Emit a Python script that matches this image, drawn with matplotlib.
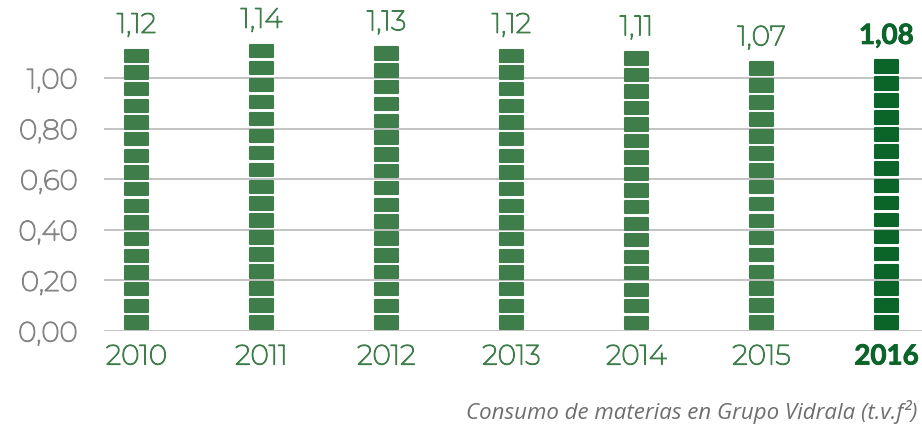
import matplotlib.pyplot as plt
import matplotlib.patheffects as pe

# data
years = ['2010', '2011', '2012', '2013', '2014', '2015', '2016']
values = [1.12, 1.14, 1.13, 1.12, 1.11, 1.07, 1.08]
value_labels = ['1,12', '1,14', '1,13', '1,12', '1,11', '1,07', '1,08']
yticks = [0.0, 0.2, 0.4, 0.6, 0.8, 1.0]
ytick_labels = ['0,00', '0,20', '0,40', '0,60', '0,80', '1,00']
caption = 'Consumo de materias en Grupo Vidrala (t.v.f²)'

green = '#3f7d4a'
dark_green = '#0b6429'
grey_txt = '#858585'

plt.rcParams['font.family'] = ['Montserrat', 'Lato', 'DejaVu Sans']


def thick(c, w=0.9):
    # installed Montserrat is very light, thicken it a bit
    return [pe.withStroke(linewidth=w, foreground=c)]


fig = plt.figure(figsize=(9.22, 4.24), dpi=100)
W, H = 922, 424
# axes placed in pixels: 0 at y=331, 253 px per unit
ax = fig.add_axes([104 / W, (H - 331) / H, (922 - 104) / W, 1.3 * 253 / H])
ax.set_xlim(-32.5 / 125, (922 - 136.5) / 125)
ax.set_ylim(0, 1.3)

# gridlines
for t in yticks:
    ax.axhline(t, color='#b3b3b3', lw=1.1, zorder=1)

seg = 0.2 / 3      # segment period (3 segments per 0.20)
width = 0.18

for i, v in enumerate(values):
    col = dark_green if i == len(values) - 1 else green
    n = int(round(v / seg))
    p = v / n
    for k in range(n):
        ax.bar(i, p * 0.74, bottom=k * p + p * 0.13, width=width, color=col,
               zorder=2, edgecolor=col, linewidth=1.5, joinstyle='round')
    if i == len(values) - 1:
        ax.text(i, v + 0.035, value_labels[i], ha='center', va='bottom',
                fontsize=20, fontweight='bold', color=dark_green,
                family=['Lato', 'DejaVu Sans'], path_effects=thick(dark_green, 0.6))
    else:
        ax.text(i, v + 0.035, value_labels[i], ha='center', va='bottom',
                fontsize=20, color=green, path_effects=thick(green))

ax.set_yticks(yticks)
ax.set_yticklabels(ytick_labels, fontsize=20, color=grey_txt)
for t in ax.get_yticklabels():
    t.set_path_effects(thick(grey_txt))
ax.set_xticks(range(len(years)))
ax.set_xticklabels(years, fontsize=20, color=green)
for t in ax.get_xticklabels():
    t.set_path_effects(thick(green))
lbl = ax.get_xticklabels()[-1]
lbl.set_fontweight('bold')
lbl.set_family(['Lato', 'DejaVu Sans'])
lbl.set_fontsize(20)
lbl.set_color(dark_green)
lbl.set_path_effects(thick(dark_green, 0.6))
ax.tick_params(length=0, pad=9)
ax.tick_params(axis='y', pad=19)
for s in ax.spines.values():
    s.set_visible(False)

fig.text(917 / W, 1 - 412 / H, caption, ha='right', va='center',
         fontsize=16, style='italic', color='#6e6e6e', family='Open Sans')

fig.savefig('out.png', dpi=100)
